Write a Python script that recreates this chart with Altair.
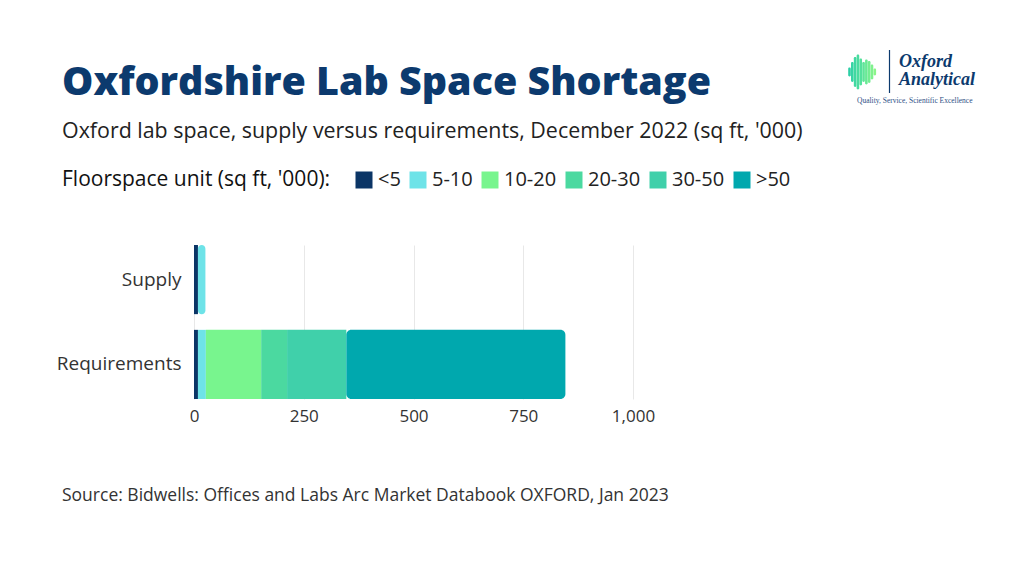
import altair as alt
import pandas as pd

# ---- data ----
categories = ["Supply", "Requirements"]
bands = ["<5", "5-10", "10-20", "20-30", "30-50", ">50"]
supply = [9, 17, 0, 0, 0, 0]
requirements = [9, 18, 126, 59, 135, 499]
band_colors = ["#0b3566", "#6ee3e8", "#78f58e", "#4bd9a0", "#40d0aa", "#00a8ae"]
x_ticks = [0, 250, 500, 750, 1000]

# logo waveform bar heights (decoration)
logo_wave = [9, 20, 30, 35, 27, 20, 25, 22, 15, 7]

rows = []
for cat, vals in zip(categories, [supply, requirements]):
    for i, (b, v) in enumerate(zip(bands, vals)):
        rows.append({"category": cat, "band": b, "order": i, "value": v})
df = pd.DataFrame(rows)

wave_df = pd.DataFrame({"i": list(range(len(logo_wave))), "h": logo_wave})

FONT = "Open Sans"
NAVY = "#0c3a6e"

# plot-area origin in page pixels
OX, OY = 194, 245
PW, PH = 439, 154

base = (
    alt.Chart(df)
    .transform_filter("datum.value > 0")
    .transform_stack(stack="value", groupby=["category"], as_=["x0", "x1"],
                     sort=[alt.SortField("order")])
    .transform_joinaggregate(max_order="max(order)", groupby=["category"])
)

enc = dict(
    x=alt.X("x0:Q",
            scale=alt.Scale(domain=[0, 1000], nice=False),
            axis=alt.Axis(values=x_ticks, format=",.0f", title=None, grid=True,
                          gridColor="#e8e8e8", gridWidth=1, domain=False, ticks=False,
                          labelFlush=False,
                          labelFontSize=17, labelPadding=9, labelColor="#333333",
                          labelFont=FONT)),
    x2="x1:Q",
    y=alt.Y("category:N", sort=categories,
            scale=alt.Scale(paddingInner=0.185, paddingOuter=0),
            axis=alt.Axis(title=None, domain=False, ticks=False, grid=False,
                          labelFontSize=19, labelPadding=13, labelColor="#333333",
                          labelFont=FONT, labelLimit=200)),
    color=alt.Color("band:N",
                    scale=alt.Scale(domain=bands, range=band_colors),
                    legend=alt.Legend(
                        title="Floorspace unit (sq ft, '000):",
                        orient="none", legendX=62 - OX, legendY=170 - OY,
                        direction="horizontal", titleOrient="left",
                        titleFontSize=21, titleFontWeight=500, titleColor="#111111",
                        titleFont=FONT, titlePadding=23, titleLimit=500,
                        labelFontSize=20, labelFont=FONT, labelColor="#222222",
                        labelLimit=200,
                        symbolType="square", symbolSize=289, symbolStrokeWidth=0,
                        symbolOpacity=1, labelOffset=4, columnPadding=7)),
)

inner = base.transform_filter("datum.order < datum.max_order").mark_bar().encode(**enc)
last = base.transform_filter("datum.order == datum.max_order").mark_bar(cornerRadiusEnd=5).encode(**enc)
bars = alt.layer(inner, last)

wave = (
    alt.Chart(wave_df)
    .transform_calculate(lo="-datum.h/2", hi="datum.h/2")
    .mark_bar(width=2.6, cornerRadius=1.2)
    .encode(
        x=alt.X("i:Q", scale=alt.Scale(domain=[0, 9], range=[844.5 - OX, 879.8 - OX],
                                       nice=False, zero=False), axis=None),
        y=alt.Y("lo:Q", scale=alt.Scale(domain=[-20, 20], range=[92 - OY, 52 - OY],
                                        nice=False, zero=False), axis=None),
        y2="hi:Q",
        color=alt.Color("i:Q", scale=alt.Scale(domain=[0, 9], range=["#2ccfa6", "#8af58a"]),
                        legend=None),
    )
)


def txt(text, x, y, size, weight="normal", color="#222222", font=FONT, style="normal"):
    return alt.Chart(alt.Data(values=[{}])).mark_text(
        text=text, align="left", baseline="alphabetic", fontSize=size,
        fontWeight=weight, color=color, font=font, fontStyle=style,
    ).encode(x=alt.value(x - OX), y=alt.value(y - OY))


texts = [
    txt("Oxfordshire Lab Space Shortage", 62, 95, 39.4, weight=800, color=NAVY),
    txt("Oxford lab space, supply versus requirements, December 2022 (sq ft, '000)",
        62, 138, 21.4, color="#222222"),
    txt("Source: Bidwells: Offices and Labs Arc Market Databook OXFORD, Jan 2023",
        62, 501, 17.5, color="#333333"),
    txt("Oxford", 899, 67, 18, weight="bold", color=NAVY, font="Liberation Serif", style="italic"),
    txt("Analytical", 899, 85, 18, weight="bold", color=NAVY, font="Liberation Serif", style="italic"),
    txt("Quality, Service, Scientific Excellence", 857, 103, 7.5, color="#2d4f85",
        font="Liberation Serif"),
]

logo_line = alt.Chart(alt.Data(values=[{}])).mark_rule(color=NAVY, strokeWidth=1.2).encode(
    x=alt.value(889.5 - OX), y=alt.value(50 - OY), y2=alt.value(93 - OY))

chart = (
    alt.layer(bars, wave, logo_line, *texts)
    .resolve_scale(x="independent", y="independent", color="independent")
    .properties(
        width=PW, height=PH,
        padding={"left": OX - 8, "top": OY - 8, "right": 1008 - (OX - 8) - PW,
                 "bottom": 547 - (OY - 8) - PH},
        autosize=alt.AutoSizeParams(type="none"),
        background="#ffffff",
    )
    .configure_view(stroke=None)
)

chart.save("out.html", embed_options={"renderer": "svg", "actions": False})
